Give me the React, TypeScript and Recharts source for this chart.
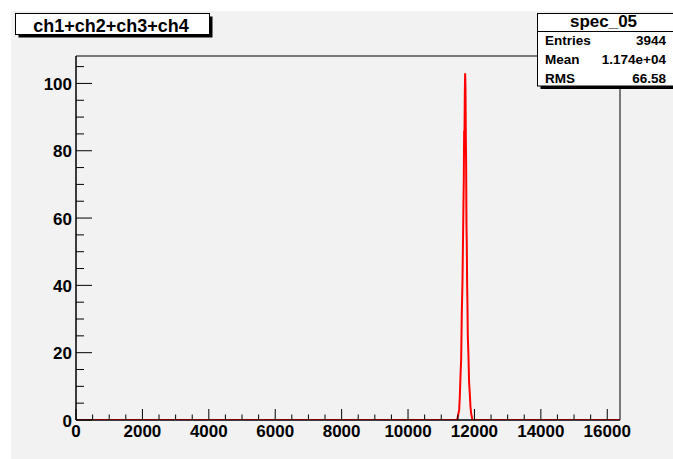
import React from 'react';
import { LineChart, Line, XAxis, YAxis, ReferenceArea } from 'recharts';

// bin centres (channel) and counts; empty range is flat at 0
const binCenters = [
  0, 11480, 11500, 11520, 11540, 11560, 11580, 11600, 11620, 11640, 11660,
  11680, 11690, 11700, 11710, 11720, 11730, 11740, 11750, 11760, 11770, 11780,
  11790, 11800, 11820, 11840, 11860, 11880, 11900, 11920, 11940, 16384,
];
const counts = [
  0, 0, 1, 2, 3, 7, 13, 18, 32, 41, 57,
  72, 86, 84, 97, 103, 99, 85, 76, 58, 52, 40,
  34, 25, 19, 11, 8, 4, 2, 1, 0, 0,
];

const xTicks = [
  0, 500, 1000, 1500, 2000, 2500, 3000, 3500, 4000, 4500, 5000, 5500, 6000,
  6500, 7000, 7500, 8000, 8500, 9000, 9500, 10000, 10500, 11000, 11500, 12000,
  12500, 13000, 13500, 14000, 14500, 15000, 15500, 16000,
];
const yTicks = [0, 5, 10, 15, 20, 25, 30, 35, 40, 45, 50, 55, 60, 65, 70, 75, 80, 85, 90, 95, 100, 105];
const xMajor = [0, 2000, 4000, 6000, 8000, 10000, 12000, 14000, 16000];
const yMajor = [0, 20, 40, 60, 80, 100];

const histTitle = 'ch1+ch2+ch3+ch4';
const statsName = 'spec_05';
const statsRows = [
  ['Entries', '3944'],
  ['Mean', '1.174e+04'],
  ['RMS', '66.58'],
];

const data = binCenters.map((x, i) => ({ x, count: counts[i] }));

const FONT = '"Liberation Sans", Arial, Helvetica, sans-serif';
const PAD = '#f2f2f2';

function YTick(props: any) {
  const { x, y, payload } = props;
  const major = yMajor.includes(payload.value);
  return (
    <g>
      <line x1={x} x2={x + (major ? 16 : 8)} y1={y} y2={y} stroke="#000" />
      {major && (
        <text x={x - 4} y={y + 6.5} textAnchor="end" fontFamily={FONT} fontWeight="bold" fontSize={17} fill="#000">
          {payload.value}
        </text>
      )}
    </g>
  );
}

function XTick(props: any) {
  const { x, y, payload } = props;
  const major = xMajor.includes(payload.value);
  return (
    <g>
      <line x1={x} x2={x} y1={y} y2={y - (major ? 11 : 5.5)} stroke="#000" />
      {major && (
        <text x={x} y={y + 16.5} textAnchor="middle" fontFamily={FONT} fontWeight="bold" fontSize={17} fill="#000">
          {payload.value}
        </text>
      )}
    </g>
  );
}

export default function App() {
  return (
    <div style={{ position: 'absolute', left: 0, top: 0, width: 673, height: 459, background: '#fff' }}>
      <div style={{ position: 'absolute', left: 11, top: 11, width: 662, height: 448, background: PAD }} />
      <div style={{ position: 'absolute', left: 0, top: 0 }}>
        <LineChart width={673} height={459} data={data} margin={{ top: 56, right: 53, bottom: 9, left: 16 }}>
          <XAxis
            dataKey="x"
            type="number"
            domain={[0, 16384]}
            ticks={xTicks}
            interval={0}
            height={30}
            tickSize={0}
            tickMargin={0}
            tick={<XTick />}
            axisLine={{ stroke: '#000' }}
            allowDataOverflow
          />
          <YAxis
            type="number"
            domain={[0, 108.15]}
            ticks={yTicks}
            interval={0}
            width={60}
            tickSize={0}
            tickMargin={0}
            tick={<YTick />}
            axisLine={{ stroke: '#000' }}
            allowDataOverflow
          />
          <ReferenceArea x1={0} x2={16384} y1={0} y2={108.15} stroke="#000" strokeWidth={1} fill="none" fillOpacity={0} />
          <Line
            type="linear"
            dataKey="count"
            stroke="#ff0000"
            strokeWidth={2}
            dot={false}
            isAnimationActive={false}
          />
        </LineChart>
      </div>
      <svg width={673} height={459} style={{ position: 'absolute', left: 0, top: 0, pointerEvents: 'none' }}>
        <rect x={18.5} y={16.5} width={194} height={21} fill="#000" />
        <rect x={15.5} y={13.5} width={194} height={21} fill="#fff" stroke="#000" />
        <text x={111} y={32} textAnchor="middle" fontFamily={FONT} fontWeight="bold" fontSize={18} fill="#000">
          {histTitle}
        </text>

        <rect x={540.5} y={16.5} width={140} height={72.5} fill="#000" />
        <rect x={537.5} y={13.5} width={140} height={72.5} fill="#fff" stroke="#000" />
        <line x1={537.5} x2={673} y1={31.5} y2={31.5} stroke="#000" />
        <text x={603.5} y={27} textAnchor="middle" fontFamily={FONT} fontWeight="bold" fontSize={17} fill="#000">
          {statsName}
        </text>
        {statsRows.map(([label, value], i) => (
          <g key={label}>
            <text x={545} y={45 + i * 18.8} fontFamily={FONT} fontWeight="bold" fontSize={13.5} fill="#000">
              {label}
            </text>
            <text x={666} y={45 + i * 18.8} textAnchor="end" fontFamily={FONT} fontWeight="bold" fontSize={13.5} fill="#000">
              {value}
            </text>
          </g>
        ))}
      </svg>
    </div>
  );
}
